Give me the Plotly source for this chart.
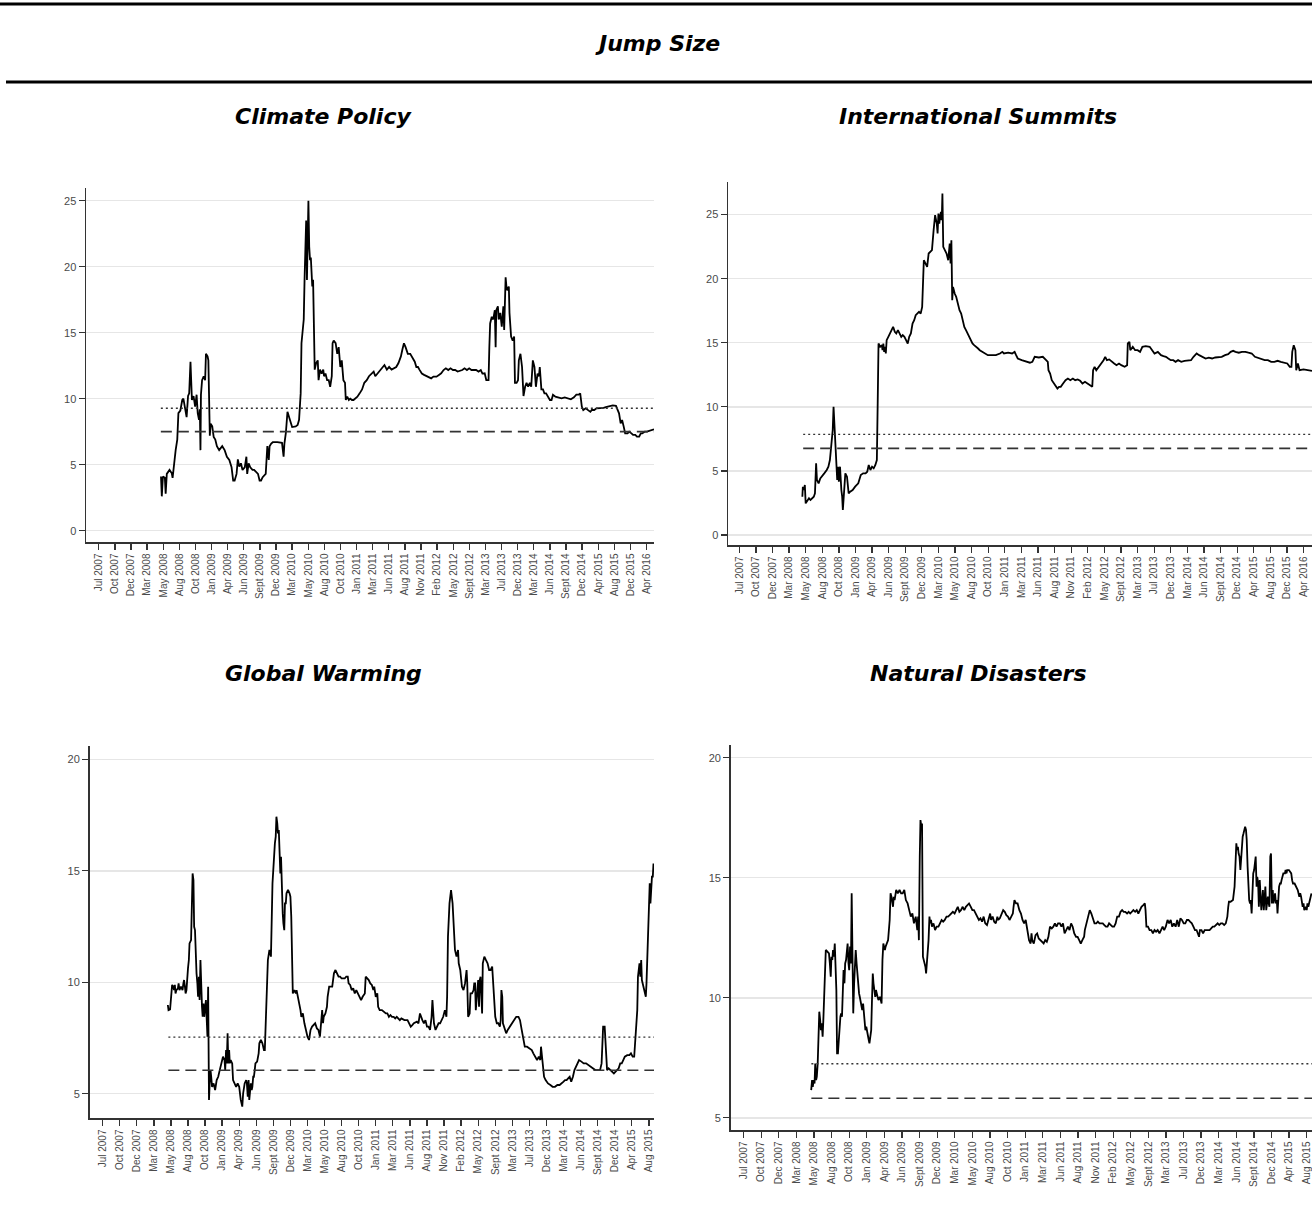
import plotly.graph_objects as go

# ---------------------------------------------------------------------------
# Data: jump size per topic. Positions are on the evenly spaced tick grid
# (0 = first tick label, 1 = second, ...), values are jump sizes.
# ---------------------------------------------------------------------------

ticks_long = ["Jul 2007", "Oct 2007", "Dec 2007", "Mar 2008", "May 2008", "Aug 2008",
              "Oct 2008", "Jan 2009", "Apr 2009", "Jun 2009", "Sept 2009", "Dec 2009",
              "Mar 2010", "May 2010", "Aug 2010", "Oct 2010", "Jan 2011", "Mar 2011",
              "Jun 2011", "Aug 2011", "Nov 2011", "Feb 2012", "May 2012", "Sept 2012",
              "Mar 2013", "Jul 2013", "Dec 2013", "Mar 2014", "Jun 2014", "Sept 2014",
              "Dec 2014", "Apr 2015", "Aug 2015", "Dec 2015", "Apr 2016"]
ticks_short = ticks_long[:33]

climate_policy = [
    (3.86, 4.1), (3.91, 2.6), (3.98, 4.1), (4.10, 4.0), (4.15, 2.8), (4.22, 4.3), (4.39, 4.6),
    (4.53, 4.35), (4.58, 4.0), (4.63, 4.6), (4.70, 5.4), (4.77, 6.1), (4.87, 6.9), (4.94, 8.9),
    (5.06, 9.1), (5.18, 9.9), (5.25, 10.0), (5.35, 9.1), (5.45, 8.6), (5.54, 10.2), (5.61, 10.4),
    (5.69, 12.8), (5.73, 10.4), (5.78, 9.9), (5.88, 10.2), (5.98, 9.4), (6.07, 10.3), (6.14, 8.9),
    (6.22, 8.4), (6.27, 9.2), (6.31, 6.1), (6.34, 10.3), (6.41, 11.4), (6.51, 11.7), (6.60, 11.4),
    (6.65, 13.4), (6.75, 13.2), (6.80, 12.9), (6.84, 10.4), (6.89, 7.2), (6.94, 8.1), (7.04, 7.9),
    (7.13, 7.1), (7.23, 6.9), (7.33, 6.4), (7.47, 6.1), (7.66, 6.4), (7.81, 6.1), (7.95, 5.6),
    (8.10, 5.35), (8.24, 4.8), (8.34, 3.8), (8.43, 3.8), (8.55, 4.3), (8.63, 5.4), (8.72, 4.85),
    (8.82, 5.1), (8.92, 4.6), (9.06, 4.8), (9.16, 5.6), (9.21, 4.3), (9.30, 5.1), (9.40, 4.8),
    (9.54, 4.6), (9.64, 4.6), (9.78, 4.45), (9.88, 4.3), (9.98, 3.8), (10.07, 3.8), (10.17, 4.05),
    (10.36, 4.3), (10.41, 5.35), (10.46, 6.4), (10.55, 5.35), (10.60, 6.4), (10.70, 6.6),
    (10.80, 6.7), (11.08, 6.7), (11.37, 6.65), (11.47, 5.6), (11.52, 6.6), (11.61, 7.4),
    (11.71, 9.0), (11.86, 8.4), (12.00, 7.85), (12.22, 7.9), (12.34, 8.0), (12.43, 8.4),
    (12.53, 10.4), (12.58, 14.2), (12.72, 16.0), (12.77, 19.0), (12.82, 22.5), (12.87, 23.5),
    (12.92, 19.0), (12.96, 22.5), (13.01, 25.0), (13.06, 21.5), (13.11, 20.5), (13.16, 20.7),
    (13.20, 19.5), (13.25, 18.5), (13.30, 19.0), (13.35, 12.7), (13.40, 12.2), (13.49, 12.7),
    (13.59, 12.9), (13.64, 11.4), (13.73, 12.2), (13.83, 11.9), (13.93, 12.2), (13.98, 11.7),
    (14.07, 11.9), (14.17, 11.4), (14.27, 11.4), (14.36, 10.9), (14.46, 11.7), (14.51, 14.2),
    (14.58, 14.4), (14.70, 14.2), (14.80, 13.4), (14.89, 13.9), (14.99, 12.4), (15.08, 12.9),
    (15.18, 11.4), (15.28, 11.2), (15.33, 9.9), (15.42, 10.15), (15.52, 9.9), (15.61, 10.0),
    (15.71, 9.9), (15.81, 9.9), (15.90, 10.0), (16.05, 10.15), (16.19, 10.4), (16.34, 10.7),
    (16.48, 11.2), (16.63, 11.4), (16.77, 11.7), (16.92, 11.9), (17.06, 12.05), (17.16, 11.7),
    (17.30, 11.9), (17.45, 12.2), (17.59, 12.4), (17.73, 12.55), (17.88, 12.2), (18.02, 12.4),
    (18.17, 12.2), (18.31, 12.3), (18.46, 12.4), (18.60, 12.7), (18.75, 13.2), (18.84, 13.7),
    (18.94, 14.2), (19.04, 13.9), (19.18, 13.4), (19.33, 13.4), (19.42, 13.2), (19.52, 12.9),
    (19.61, 12.8), (19.71, 12.4), (19.81, 12.4), (19.90, 12.2), (20.05, 11.9), (20.19, 11.8),
    (20.34, 11.7), (20.48, 11.67), (20.63, 11.54), (20.77, 11.67), (20.96, 11.67), (21.11, 11.8),
    (21.25, 11.92), (21.40, 12.17), (21.54, 12.3), (21.69, 12.17), (21.83, 12.3), (21.98, 12.17),
    (22.12, 12.17), (22.27, 12.05), (22.41, 12.1), (22.56, 12.17), (22.70, 12.3), (22.85, 12.17),
    (22.99, 12.3), (23.13, 12.17), (23.28, 12.17), (23.42, 12.17), (23.57, 12.05), (23.71, 12.17),
    (23.81, 11.9), (23.95, 11.92), (24.05, 11.41), (24.19, 11.41), (24.24, 13.9), (24.29, 15.7),
    (24.39, 16.2), (24.48, 16.0), (24.58, 16.7), (24.63, 13.9), (24.67, 16.7), (24.77, 17.0),
    (24.82, 16.0), (24.92, 16.5), (25.01, 15.45), (25.11, 17.0), (25.16, 15.2), (25.20, 17.5),
    (25.25, 19.2), (25.30, 18.5), (25.35, 18.2), (25.45, 18.5), (25.49, 16.5), (25.59, 14.7),
    (25.69, 14.4), (25.78, 14.7), (25.83, 11.2), (25.93, 11.2), (26.02, 11.4), (26.07, 12.9),
    (26.17, 13.4), (26.27, 12.4), (26.36, 10.2), (26.46, 10.9), (26.55, 11.2), (26.65, 10.9),
    (26.75, 11.2), (26.84, 10.9), (26.94, 12.9), (27.04, 12.4), (27.08, 11.4), (27.13, 10.9),
    (27.23, 11.9), (27.32, 11.7), (27.37, 12.4), (27.47, 10.7), (27.57, 10.7), (27.66, 10.4),
    (27.76, 10.4), (27.90, 10.15), (28.00, 9.9), (28.10, 9.9), (28.19, 10.3), (28.34, 10.15),
    (28.53, 10.1), (28.72, 10.03), (28.92, 10.1), (29.11, 10.03), (29.30, 9.95), (29.49, 10.1),
    (29.64, 10.3), (29.78, 10.3), (29.88, 10.4), (29.98, 9.4), (30.07, 9.14), (30.22, 9.27),
    (30.36, 9.14), (30.51, 9.0), (30.60, 9.14), (30.75, 9.14), (30.89, 9.27), (31.04, 9.27),
    (31.18, 9.3), (31.33, 9.3), (31.47, 9.35), (31.62, 9.4), (31.76, 9.45), (31.90, 9.49),
    (32.10, 9.45), (32.19, 9.14), (32.29, 8.89), (32.39, 8.13), (32.48, 8.38), (32.58, 7.88),
    (32.67, 7.37), (32.82, 7.37), (32.92, 7.50), (33.06, 7.37), (33.16, 7.25), (33.30, 7.25),
    (33.40, 7.12), (33.54, 7.12), (33.64, 7.37), (33.73, 7.37), (33.88, 7.50), (34.02, 7.50),
    (34.17, 7.55), (34.36, 7.63), (34.46, 7.68),
]

international_summits = [
    (3.80, 2.99), (3.83, 3.77), (3.90, 3.51), (3.95, 3.90), (4.00, 2.47), (4.10, 2.73),
    (4.20, 2.86), (4.29, 2.73), (4.39, 2.86), (4.49, 2.99), (4.56, 3.25), (4.63, 5.59),
    (4.68, 4.29), (4.78, 4.03), (4.88, 4.42), (4.98, 4.55), (5.12, 4.81), (5.27, 5.07),
    (5.37, 5.33), (5.46, 5.85), (5.56, 7.67), (5.63, 8.19), (5.68, 10.01), (5.73, 8.19),
    (5.80, 6.89), (5.90, 4.29), (5.95, 5.33), (6.00, 4.16), (6.07, 5.33), (6.15, 3.51),
    (6.20, 2.99), (6.24, 1.95), (6.29, 2.73), (6.34, 4.03), (6.39, 4.81), (6.49, 4.55),
    (6.59, 3.25), (6.68, 3.38), (6.83, 3.51), (6.98, 3.77), (7.17, 4.03), (7.32, 4.68),
    (7.46, 4.81), (7.61, 4.81), (7.71, 4.94), (7.80, 5.46), (7.90, 5.07), (8.00, 5.33),
    (8.10, 5.20), (8.20, 5.46), (8.29, 5.85), (8.34, 10.27), (8.39, 14.94), (8.49, 14.68),
    (8.59, 14.81), (8.63, 14.42), (8.68, 14.94), (8.73, 14.29), (8.78, 14.68), (8.83, 14.16),
    (8.88, 15.20), (8.98, 15.46), (9.07, 15.72), (9.17, 15.98), (9.27, 16.24), (9.37, 15.85),
    (9.46, 15.72), (9.56, 15.98), (9.66, 15.72), (9.76, 15.46), (9.85, 15.59), (9.95, 15.46),
    (10.05, 15.20), (10.15, 14.94), (10.24, 15.46), (10.34, 15.72), (10.44, 16.50), (10.54, 16.76),
    (10.63, 17.15), (10.73, 17.28), (10.83, 17.41), (10.93, 17.28), (11.02, 17.80), (11.12, 21.44),
    (11.22, 21.18), (11.32, 20.92), (11.41, 21.96), (11.51, 22.09), (11.61, 22.22), (11.71, 23.78),
    (11.80, 24.95), (11.90, 24.30), (11.95, 23.52), (12.00, 25.08), (12.05, 24.30), (12.10, 24.82),
    (12.15, 25.21), (12.20, 24.56), (12.24, 26.64), (12.29, 22.48), (12.39, 22.22), (12.49, 21.96),
    (12.59, 21.44), (12.68, 22.74), (12.73, 21.18), (12.78, 23.00), (12.83, 18.32), (12.88, 19.36),
    (12.98, 18.84), (13.07, 18.58), (13.17, 18.06), (13.27, 17.54), (13.37, 17.28), (13.46, 16.76),
    (13.56, 16.24), (13.66, 15.98), (13.76, 15.72), (13.85, 15.46), (13.95, 15.20), (14.05, 14.94),
    (14.15, 14.81), (14.24, 14.68), (14.39, 14.55), (14.49, 14.42), (14.63, 14.29), (14.78, 14.16),
    (14.98, 14.03), (15.22, 14.03), (15.46, 14.03), (15.71, 14.16), (15.85, 14.29), (15.95, 14.16),
    (16.20, 14.22), (16.44, 14.16), (16.59, 14.29), (16.68, 14.03), (16.78, 13.77), (17.02, 13.64),
    (17.27, 13.51), (17.51, 13.44), (17.66, 13.51), (17.80, 13.90), (18.05, 13.85), (18.29, 13.90),
    (18.49, 13.64), (18.59, 13.51), (18.63, 12.86), (18.73, 12.60), (18.83, 12.08), (18.98, 11.82),
    (19.07, 11.69), (19.17, 11.43), (19.27, 11.56), (19.37, 11.56), (19.51, 11.82), (19.66, 12.08),
    (19.80, 12.21), (19.95, 12.08), (20.10, 12.21), (20.24, 12.08), (20.39, 12.14), (20.54, 12.03),
    (20.68, 11.82), (20.83, 11.95), (20.98, 11.82), (21.12, 11.69), (21.27, 11.56), (21.32, 12.86),
    (21.41, 13.12), (21.51, 12.86), (21.66, 13.12), (21.80, 13.38), (21.95, 13.64), (22.05, 13.90),
    (22.15, 13.64), (22.29, 13.70), (22.44, 13.51), (22.59, 13.38), (22.73, 13.25), (22.88, 13.38),
    (23.02, 13.25), (23.22, 13.12), (23.37, 13.25), (23.41, 14.94), (23.51, 15.07), (23.56, 14.42),
    (23.71, 14.68), (23.85, 14.42), (24.00, 14.42), (24.15, 14.29), (24.29, 14.68), (24.49, 14.73),
    (24.73, 14.68), (24.88, 14.42), (25.02, 14.16), (25.22, 14.29), (25.41, 14.03), (25.56, 13.96),
    (25.71, 13.90), (25.85, 13.77), (26.00, 13.64), (26.15, 13.64), (26.29, 13.51), (26.44, 13.64),
    (26.63, 13.51), (26.83, 13.59), (27.02, 13.64), (27.22, 13.64), (27.37, 13.90), (27.56, 14.16),
    (27.71, 14.03), (27.90, 13.90), (28.10, 13.77), (28.29, 13.83), (28.49, 13.77), (28.68, 13.85),
    (28.88, 13.90), (29.07, 13.90), (29.27, 14.03), (29.46, 14.11), (29.61, 14.29), (29.76, 14.37),
    (29.90, 14.29), (30.10, 14.22), (30.29, 14.29), (30.49, 14.29), (30.68, 14.22), (30.88, 14.16),
    (31.07, 13.90), (31.27, 13.83), (31.46, 13.77), (31.66, 13.64), (31.85, 13.64), (32.05, 13.51),
    (32.24, 13.51), (32.44, 13.59), (32.63, 13.51), (32.83, 13.44), (33.02, 13.38), (33.17, 13.12),
    (33.27, 13.12), (33.32, 14.29), (33.41, 14.81), (33.51, 14.42), (33.56, 12.86), (33.66, 13.38),
    (33.76, 12.86), (34.00, 12.92), (34.24, 12.86), (34.51, 12.81),
]

global_warming = [
    (3.82, 8.98), (3.86, 8.75), (3.95, 8.78), (4.02, 9.35), (4.07, 9.88), (4.14, 9.80), (4.18, 9.65),
    (4.23, 9.88), (4.27, 9.50), (4.32, 9.65), (4.41, 9.73), (4.45, 9.95), (4.50, 9.65), (4.59, 9.80),
    (4.68, 9.65), (4.73, 9.95), (4.77, 10.10), (4.82, 9.80), (4.86, 9.50), (4.91, 9.65), (4.95, 10.25),
    (5.00, 10.62), (5.05, 11.00), (5.09, 11.74), (5.18, 11.89), (5.23, 13.84), (5.27, 14.88),
    (5.32, 14.59), (5.36, 12.49), (5.41, 12.34), (5.45, 10.85), (5.50, 10.40), (5.55, 9.95),
    (5.59, 9.35), (5.64, 10.25), (5.68, 9.20), (5.73, 11.00), (5.77, 9.50), (5.82, 8.90),
    (5.86, 8.45), (5.91, 9.05), (5.95, 8.45), (6.00, 8.90), (6.05, 9.20), (6.09, 8.45), (6.14, 7.56),
    (6.18, 9.80), (6.23, 4.72), (6.27, 5.46), (6.32, 6.06), (6.36, 5.76), (6.41, 5.31), (6.50, 5.46),
    (6.59, 5.16), (6.68, 5.61), (6.77, 5.76), (6.86, 6.06), (6.95, 6.36), (7.05, 6.66), (7.14, 6.51),
    (7.18, 6.06), (7.23, 6.96), (7.27, 6.36), (7.32, 7.71), (7.36, 6.36), (7.41, 6.96), (7.45, 6.36),
    (7.50, 6.51), (7.59, 6.36), (7.64, 5.61), (7.73, 5.46), (7.82, 5.31), (7.91, 5.46), (8.00, 5.31),
    (8.09, 4.72), (8.18, 4.42), (8.23, 5.01), (8.32, 5.46), (8.41, 5.61), (8.45, 5.46), (8.50, 4.87),
    (8.55, 5.61), (8.59, 4.72), (8.64, 5.16), (8.68, 5.46), (8.73, 5.16), (8.77, 5.31), (8.82, 5.76),
    (8.86, 5.76), (8.91, 6.06), (8.95, 6.36), (9.05, 6.44), (9.14, 6.81), (9.18, 7.26), (9.27, 7.41),
    (9.36, 7.26), (9.45, 6.96), (9.50, 6.96), (9.55, 7.86), (9.59, 9.20), (9.64, 10.25), (9.68, 11.00),
    (9.77, 11.45), (9.86, 11.15), (9.95, 14.44), (10.05, 15.93), (10.09, 16.23), (10.14, 16.53),
    (10.18, 17.43), (10.23, 17.13), (10.27, 16.68), (10.32, 16.83), (10.36, 15.18), (10.41, 14.88),
    (10.45, 15.63), (10.50, 13.54), (10.55, 13.09), (10.59, 12.64), (10.64, 12.34), (10.68, 13.54),
    (10.73, 13.54), (10.77, 13.99), (10.86, 14.14), (10.95, 13.99), (11.00, 13.84), (11.05, 12.94),
    (11.09, 9.95), (11.14, 9.50), (11.23, 9.65), (11.32, 9.50), (11.36, 9.65), (11.45, 9.35),
    (11.50, 9.05), (11.59, 8.75), (11.64, 8.45), (11.73, 8.60), (11.82, 8.16), (11.91, 7.86),
    (12.00, 7.56), (12.09, 7.41), (12.18, 7.86), (12.27, 8.01), (12.36, 8.08), (12.45, 8.16),
    (12.55, 7.93), (12.64, 7.86), (12.73, 7.56), (12.82, 8.30), (12.86, 8.75), (12.91, 8.16),
    (12.95, 8.45), (13.05, 8.60), (13.14, 8.90), (13.18, 9.35), (13.27, 9.80), (13.36, 9.80),
    (13.45, 9.80), (13.55, 10.40), (13.64, 10.55), (13.73, 10.40), (13.82, 10.25), (13.91, 10.25),
    (14.00, 10.17), (14.18, 10.17), (14.27, 10.25), (14.36, 10.25), (14.41, 9.95), (14.50, 9.88),
    (14.59, 9.65), (14.68, 9.73), (14.77, 9.50), (14.86, 9.65), (14.95, 9.50), (15.05, 9.35),
    (15.14, 9.20), (15.23, 9.35), (15.32, 9.50), (15.36, 9.50), (15.41, 10.25), (15.50, 10.17),
    (15.59, 10.10), (15.68, 9.95), (15.77, 9.88), (15.86, 9.65), (15.91, 9.80), (16.00, 9.35),
    (16.09, 9.50), (16.14, 8.90), (16.23, 8.75), (16.36, 8.75), (16.50, 8.68), (16.59, 8.60),
    (16.68, 8.60), (16.77, 8.45), (16.86, 8.53), (16.95, 8.45), (17.05, 8.45), (17.14, 8.38),
    (17.23, 8.45), (17.32, 8.38), (17.41, 8.30), (17.50, 8.38), (17.68, 8.30), (17.86, 8.30),
    (17.95, 8.16), (18.05, 8.01), (18.14, 8.08), (18.23, 8.16), (18.41, 8.23), (18.50, 8.16),
    (18.59, 8.60), (18.64, 8.45), (18.73, 8.30), (18.82, 8.16), (18.91, 8.30), (19.00, 8.01),
    (19.09, 8.01), (19.18, 7.86), (19.27, 8.45), (19.32, 9.20), (19.36, 8.75), (19.41, 8.16),
    (19.50, 7.86), (19.59, 8.01), (19.68, 8.16), (19.77, 8.16), (19.86, 8.30), (19.95, 8.45),
    (20.05, 8.75), (20.14, 8.45), (20.18, 9.35), (20.23, 12.04), (20.32, 13.54), (20.41, 14.14),
    (20.50, 13.54), (20.55, 12.64), (20.59, 12.34), (20.64, 11.45), (20.73, 11.15), (20.82, 11.45),
    (20.86, 10.85), (20.95, 10.55), (21.05, 9.80), (21.14, 9.65), (21.23, 9.95), (21.32, 10.55),
    (21.36, 9.95), (21.41, 8.45), (21.50, 8.60), (21.55, 9.50), (21.64, 9.50), (21.73, 9.65),
    (21.77, 9.95), (21.82, 9.95), (21.86, 8.75), (21.95, 9.65), (22.00, 10.10), (22.05, 8.90),
    (22.09, 10.10), (22.14, 10.25), (22.23, 8.60), (22.27, 10.85), (22.36, 11.15), (22.45, 11.00),
    (22.55, 10.85), (22.64, 10.55), (22.73, 10.55), (22.82, 10.70), (22.91, 9.35), (23.00, 8.45),
    (23.09, 8.16), (23.18, 8.16), (23.27, 8.01), (23.32, 8.30), (23.36, 9.65), (23.41, 9.35),
    (23.45, 8.16), (23.55, 7.86), (23.64, 7.71), (23.73, 7.86), (23.86, 8.01), (24.00, 8.16),
    (24.09, 8.30), (24.23, 8.45), (24.36, 8.45), (24.45, 8.30), (24.55, 7.86), (24.64, 7.41),
    (24.73, 7.11), (24.86, 7.11), (25.00, 7.03), (25.14, 6.96), (25.23, 6.81), (25.36, 6.66),
    (25.45, 6.51), (25.55, 6.66), (25.64, 6.51), (25.68, 7.11), (25.77, 6.36), (25.86, 5.76),
    (25.95, 5.61), (26.09, 5.46), (26.23, 5.39), (26.36, 5.31), (26.50, 5.31), (26.64, 5.39),
    (26.77, 5.39), (26.91, 5.46), (27.00, 5.54), (27.09, 5.61), (27.18, 5.61), (27.27, 5.69),
    (27.36, 5.76), (27.45, 5.54), (27.55, 5.76), (27.64, 6.06), (27.73, 6.21), (27.82, 6.36),
    (27.91, 6.51), (28.05, 6.44), (28.18, 6.36), (28.32, 6.36), (28.45, 6.29), (28.59, 6.21),
    (28.73, 6.14), (28.86, 6.06), (29.05, 6.06), (29.14, 6.06), (29.23, 6.36), (29.32, 8.01),
    (29.41, 8.01), (29.50, 6.96), (29.55, 6.06), (29.64, 6.14), (29.77, 6.06), (29.86, 5.99),
    (29.95, 5.91), (30.05, 5.99), (30.14, 6.06), (30.23, 6.14), (30.32, 6.36), (30.41, 6.36),
    (30.50, 6.51), (30.59, 6.66), (30.73, 6.73), (30.86, 6.73), (30.95, 6.81), (31.05, 6.66),
    (31.14, 6.66), (31.23, 7.86), (31.32, 8.75), (31.36, 10.25), (31.45, 10.85), (31.50, 10.25),
    (31.55, 11.00), (31.59, 10.10), (31.64, 9.95), (31.73, 9.65), (31.82, 9.35), (31.86, 9.95),
    (31.91, 11.15), (31.95, 12.34), (32.00, 13.09), (32.05, 14.44), (32.09, 13.54), (32.14, 14.59),
    (32.18, 14.74), (32.23, 14.74), (32.27, 15.33),
]

natural_disasters = [
    (3.84, 6.15), (3.89, 6.57), (3.93, 6.29), (3.98, 6.57), (4.03, 6.43), (4.07, 7.26), (4.12, 6.57),
    (4.16, 6.71), (4.21, 7.26), (4.26, 8.24), (4.30, 9.42), (4.35, 9.07), (4.39, 8.65), (4.44, 8.93),
    (4.49, 8.38), (4.53, 9.07), (4.58, 10.46), (4.62, 10.46), (4.67, 11.99), (4.76, 11.92),
    (4.85, 11.85), (4.90, 11.43), (4.95, 10.88), (4.99, 11.71), (5.04, 11.57), (5.08, 11.99),
    (5.13, 11.71), (5.18, 12.26), (5.22, 11.43), (5.27, 10.32), (5.31, 7.68), (5.36, 7.68),
    (5.41, 8.24), (5.45, 8.93), (5.50, 9.21), (5.54, 9.35), (5.59, 9.21), (5.64, 10.32), (5.68, 11.15),
    (5.73, 10.60), (5.77, 11.43), (5.82, 11.57), (5.87, 11.99), (5.91, 12.26), (5.96, 11.43),
    (6.00, 11.15), (6.05, 12.13), (6.10, 11.43), (6.14, 14.35), (6.19, 12.13), (6.23, 9.35),
    (6.28, 10.60), (6.33, 11.43), (6.37, 11.99), (6.42, 11.43), (6.46, 11.01), (6.51, 10.32),
    (6.56, 10.18), (6.60, 10.04), (6.69, 9.76), (6.74, 9.49), (6.79, 9.76), (6.83, 9.35), (6.88, 9.07),
    (6.92, 8.65), (6.97, 8.79), (7.02, 8.51), (7.06, 8.38), (7.11, 8.24), (7.15, 8.10), (7.20, 8.38),
    (7.25, 8.65), (7.29, 9.76), (7.34, 11.01), (7.38, 10.60), (7.43, 10.18), (7.48, 10.04),
    (7.52, 10.32), (7.57, 10.18), (7.61, 10.04), (7.66, 9.90), (7.75, 10.04), (7.84, 9.76),
    (7.89, 11.57), (7.94, 12.26), (7.98, 12.13), (8.03, 11.99), (8.07, 12.13), (8.12, 12.26),
    (8.21, 12.40), (8.30, 13.24), (8.35, 14.35), (8.40, 14.21), (8.44, 14.07), (8.49, 13.79),
    (8.53, 14.21), (8.58, 14.07), (8.67, 14.49), (8.76, 14.35), (8.86, 14.49), (8.95, 14.35),
    (9.04, 14.35), (9.13, 14.49), (9.22, 14.07), (9.32, 13.93), (9.41, 13.65), (9.50, 13.38),
    (9.59, 13.51), (9.68, 13.10), (9.78, 13.38), (9.87, 12.82), (9.92, 13.38), (9.96, 12.40),
    (10.01, 15.88), (10.05, 17.40), (10.10, 17.13), (10.14, 17.26), (10.19, 11.71), (10.28, 11.43),
    (10.33, 11.29), (10.37, 11.01), (10.42, 11.43), (10.47, 11.99), (10.51, 12.40), (10.56, 13.38),
    (10.60, 13.10), (10.65, 13.24), (10.70, 12.96), (10.79, 13.10), (10.88, 12.82), (10.97, 12.96),
    (11.07, 12.96), (11.16, 13.10), (11.25, 13.24), (11.34, 13.17), (11.43, 13.24), (11.53, 13.38),
    (11.62, 13.38), (11.71, 13.44), (11.80, 13.51), (11.89, 13.58), (11.99, 13.51), (12.08, 13.65),
    (12.17, 13.79), (12.26, 13.58), (12.35, 13.65), (12.45, 13.79), (12.54, 13.65), (12.63, 13.79),
    (12.72, 13.86), (12.81, 13.93), (12.91, 13.79), (13.00, 13.65), (13.09, 13.65), (13.18, 13.51),
    (13.27, 13.38), (13.37, 13.24), (13.46, 13.31), (13.55, 13.17), (13.64, 13.38), (13.73, 13.10),
    (13.83, 13.03), (13.92, 13.24), (14.01, 13.51), (14.06, 13.24), (14.15, 13.38), (14.24, 13.17),
    (14.33, 13.10), (14.42, 13.38), (14.47, 13.24), (14.56, 13.31), (14.65, 13.51), (14.75, 13.65),
    (14.84, 13.58), (14.93, 13.44), (15.02, 13.38), (15.11, 13.24), (15.21, 13.38), (15.30, 13.51),
    (15.34, 13.79), (15.39, 14.07), (15.48, 13.93), (15.57, 13.93), (15.67, 13.65), (15.76, 13.51),
    (15.85, 13.24), (15.94, 13.10), (16.03, 13.24), (16.13, 12.82), (16.22, 12.40), (16.31, 12.26),
    (16.36, 12.68), (16.40, 12.40), (16.49, 12.26), (16.59, 12.61), (16.68, 12.68), (16.77, 12.47),
    (16.86, 12.40), (16.95, 12.33), (17.05, 12.26), (17.14, 12.40), (17.23, 12.33), (17.32, 12.54),
    (17.41, 12.96), (17.51, 12.89), (17.60, 12.96), (17.69, 13.10), (17.78, 12.96), (17.87, 13.10),
    (17.97, 13.10), (18.06, 12.96), (18.15, 13.10), (18.24, 12.68), (18.33, 12.82), (18.43, 12.96),
    (18.52, 12.82), (18.61, 13.10), (18.70, 12.96), (18.79, 12.68), (18.89, 12.54), (18.98, 12.54),
    (19.07, 12.40), (19.16, 12.26), (19.25, 12.40), (19.35, 12.54), (19.39, 12.82), (19.48, 13.10),
    (19.58, 13.38), (19.67, 13.65), (19.76, 13.51), (19.85, 13.24), (19.94, 13.10), (20.04, 13.10),
    (20.13, 13.17), (20.22, 13.10), (20.31, 13.10), (20.41, 13.10), (20.50, 13.03), (20.59, 12.96),
    (20.68, 12.96), (20.77, 13.10), (20.87, 13.03), (20.96, 12.96), (21.05, 12.96), (21.14, 13.10),
    (21.23, 13.38), (21.33, 13.38), (21.42, 13.58), (21.51, 13.65), (21.60, 13.58), (21.69, 13.58),
    (21.79, 13.51), (21.88, 13.58), (21.97, 13.51), (22.06, 13.58), (22.15, 13.65), (22.25, 13.58),
    (22.34, 13.65), (22.43, 13.51), (22.52, 13.65), (22.61, 13.79), (22.71, 13.86), (22.80, 13.93),
    (22.84, 13.65), (22.89, 12.96), (22.98, 12.96), (23.07, 12.82), (23.17, 12.82), (23.26, 12.68),
    (23.35, 12.82), (23.44, 12.75), (23.53, 12.82), (23.63, 12.68), (23.72, 12.82), (23.81, 12.96),
    (23.90, 12.82), (23.99, 12.96), (24.09, 13.24), (24.18, 13.10), (24.27, 13.24), (24.36, 12.96),
    (24.45, 13.10), (24.55, 12.96), (24.64, 13.24), (24.73, 12.96), (24.82, 13.31), (24.91, 13.24),
    (25.01, 13.10), (25.10, 13.10), (25.19, 13.24), (25.28, 13.24), (25.37, 13.17), (25.47, 13.10),
    (25.56, 12.96), (25.65, 12.82), (25.74, 12.82), (25.83, 12.68), (25.88, 12.54), (25.93, 12.82),
    (26.02, 12.82), (26.11, 12.68), (26.20, 12.82), (26.29, 12.82), (26.39, 12.82), (26.48, 12.82),
    (26.57, 12.89), (26.66, 12.96), (26.75, 12.96), (26.85, 13.03), (26.94, 13.10), (27.03, 13.03),
    (27.12, 13.10), (27.21, 13.10), (27.31, 13.03), (27.40, 13.10), (27.49, 13.38), (27.54, 13.79),
    (27.58, 14.00), (27.67, 14.00), (27.81, 14.07), (27.90, 14.63), (27.95, 15.88), (28.00, 16.43),
    (28.04, 16.15), (28.09, 16.29), (28.13, 16.01), (28.18, 15.88), (28.23, 15.32), (28.27, 15.88),
    (28.32, 16.29), (28.36, 16.71), (28.41, 16.85), (28.46, 16.99), (28.50, 17.13), (28.55, 16.99),
    (28.59, 16.57), (28.64, 15.46), (28.69, 14.21), (28.73, 14.07), (28.78, 13.93), (28.82, 14.07),
    (28.87, 13.51), (28.92, 14.76), (28.96, 15.18), (29.01, 15.32), (29.05, 15.60), (29.10, 15.88),
    (29.15, 14.63), (29.19, 15.04), (29.24, 14.76), (29.28, 13.79), (29.33, 14.90), (29.38, 13.65),
    (29.42, 13.65), (29.47, 14.07), (29.51, 14.49), (29.56, 13.65), (29.61, 14.21), (29.65, 14.63),
    (29.70, 13.65), (29.74, 13.93), (29.79, 14.21), (29.84, 13.93), (29.88, 13.79), (29.93, 15.88),
    (29.97, 16.01), (30.02, 13.93), (30.07, 14.49), (30.11, 13.93), (30.16, 14.21), (30.20, 14.35),
    (30.25, 13.93), (30.30, 14.07), (30.34, 13.51), (30.39, 14.35), (30.43, 14.63), (30.48, 14.76),
    (30.53, 14.76), (30.57, 14.90), (30.62, 15.04), (30.67, 15.18), (30.76, 15.18), (30.80, 15.32),
    (30.85, 15.18), (30.89, 15.32), (30.99, 15.32), (31.08, 15.25), (31.12, 15.18), (31.17, 14.90),
    (31.22, 14.76), (31.31, 14.76), (31.40, 14.63), (31.49, 14.49), (31.58, 14.21), (31.63, 14.35),
    (31.68, 14.21), (31.72, 13.93), (31.77, 13.79), (31.82, 13.93), (31.86, 13.65), (31.95, 13.79),
    (32.00, 13.65), (32.04, 13.93), (32.09, 13.79), (32.18, 14.07), (32.27, 14.35),
]

# Horizontal reference levels (dotted and long-dashed) per topic
dotted_levels = [9.27, 7.85, 7.54, 7.25]
dashed_levels = [7.50, 6.76, 6.05, 5.81]
reference_start = 3.85

panel_titles = ["Climate Policy", "International Summits", "Global Warming", "Natural Disasters"]
series = [climate_policy, international_summits, global_warming, natural_disasters]
tick_sets = [ticks_long, ticks_long, ticks_short, ticks_short]
y_ticks = [[0, 5, 10, 15, 20, 25], [0, 5, 10, 15, 20, 25], [5, 10, 15, 20], [5, 10, 15, 20]]

# ---------------------------------------------------------------------------
# Layout (pixel geometry of each plotting area and its axis ranges)
# ---------------------------------------------------------------------------
W, H = 1312, 1227

frames = [
    # x0, x1, y_top, y_bottom (pixels), x range, y range, title centre (px)
    dict(px=(86, 654), py=(188, 542), xr=(-0.795, 34.46), yr=(-0.86, 25.96), title=(323, 117)),
    dict(px=(728, 1312), py=(182, 545), xr=(-0.68, 34.51), yr=(-0.78, 27.54), title=(978, 117)),
    dict(px=(89.5, 654), py=(746, 1118), xr=(-0.77, 32.3), yr=(3.91, 20.6), title=(323, 673)),
    dict(px=(730.6, 1312), py=(745, 1130), xr=(-0.74, 32.3), yr=(4.49, 20.53), title=(978, 673)),
]

AXIS_COLOR = "#333333"
GRID_COLOR = "#e6e6e6"
TICK_FONT = dict(family="Liberation Sans, Arial, sans-serif", size=10, color="#4a4a4a")
TITLE_FONT = dict(family="DejaVu Sans, sans-serif", size=22, color="#000000")

fig = go.Figure()
layout_axes = {}

for k in range(4):
    fr = frames[k]
    xa = "x" if k == 0 else f"x{k + 1}"
    ya = "y" if k == 0 else f"y{k + 1}"
    xkey = "xaxis" if k == 0 else f"xaxis{k + 1}"
    ykey = "yaxis" if k == 0 else f"yaxis{k + 1}"

    pos = [p for p, _ in series[k]]
    val = [v for _, v in series[k]]
    fig.add_trace(go.Scatter(x=pos, y=val, mode="lines", xaxis=xa, yaxis=ya,
                             line=dict(color="#000000", width=1.8), hoverinfo="skip",
                             showlegend=False))

    x_end = fr["xr"][1]
    fig.add_trace(go.Scatter(x=[reference_start, x_end], y=[dotted_levels[k]] * 2,
                             mode="lines", xaxis=xa, yaxis=ya, hoverinfo="skip",
                             line=dict(color="#333333", width=1.4, dash="2px,3px"),
                             showlegend=False))
    fig.add_trace(go.Scatter(x=[reference_start, x_end], y=[dashed_levels[k]] * 2,
                             mode="lines", xaxis=xa, yaxis=ya, hoverinfo="skip",
                             line=dict(color="#333333", width=1.6, dash="11px,6px"),
                             showlegend=False))

    labels = tick_sets[k]
    layout_axes[xkey] = dict(
        domain=[fr["px"][0] / W, fr["px"][1] / W], range=list(fr["xr"]), anchor=ya,
        tickmode="array", tickvals=list(range(len(labels))), ticktext=labels,
        tickangle=-90, ticks="outside", ticklen=6, tickwidth=1.3, tickcolor=AXIS_COLOR,
        showline=True, linecolor=AXIS_COLOR, linewidth=1.5, showgrid=False,
        zeroline=False, tickfont=TICK_FONT, fixedrange=True,
    )
    layout_axes[ykey] = dict(
        domain=[1 - fr["py"][1] / H, 1 - fr["py"][0] / H], range=list(fr["yr"]), anchor=xa,
        tickmode="array", tickvals=y_ticks[k], ticks="outside", ticklen=6, tickwidth=1.3,
        tickcolor=AXIS_COLOR, showline=True, linecolor=AXIS_COLOR, linewidth=1.5,
        showgrid=True, gridcolor=GRID_COLOR, gridwidth=1.5, zeroline=False,
        tickfont=dict(TICK_FONT, size=11), fixedrange=True,
    )

annotations = [
    dict(text="<b><i>Jump Size</i></b>", x=657 / W, y=1 - 44 / H, xref="paper", yref="paper",
         showarrow=False, xanchor="center", yanchor="middle", font=TITLE_FONT)
]
for k in range(4):
    tx, ty = frames[k]["title"]
    annotations.append(dict(text=f"<b><i>{panel_titles[k]}</i></b>", x=tx / W, y=1 - ty / H,
                            xref="paper", yref="paper", showarrow=False,
                            xanchor="center", yanchor="middle", font=TITLE_FONT))

shapes = [
    dict(type="line", xref="paper", yref="paper", x0=0, x1=1, y0=1 - 4 / H, y1=1 - 4 / H,
         line=dict(color="#000000", width=3)),
    dict(type="line", xref="paper", yref="paper", x0=6 / W, x1=1, y0=1 - 82 / H, y1=1 - 82 / H,
         line=dict(color="#000000", width=3)),
]

fig.update_layout(
    width=W, height=H, autosize=False,
    margin=dict(l=0, r=0, t=0, b=0, pad=0),
    paper_bgcolor="#ffffff", plot_bgcolor="#ffffff",
    showlegend=False, hovermode=False,
    annotations=annotations, shapes=shapes,
    **layout_axes,
)

fig.write_html("out.html", config={"displayModeBar": False, "staticPlot": True})
